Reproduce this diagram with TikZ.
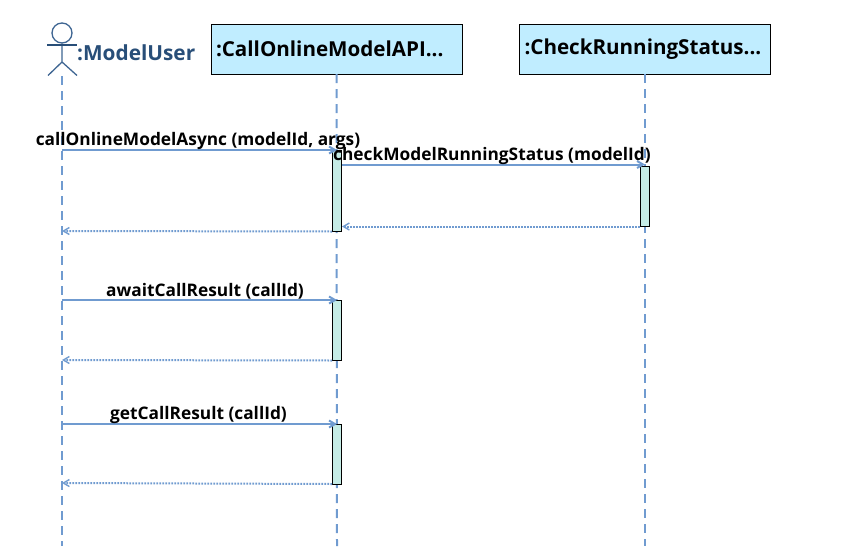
\documentclass[tikz,border=0pt]{standalone}
\usepackage{fontspec}
\setmainfont{Open Sans}
\usetikzlibrary{positioning, calc, arrows.meta}
\definecolor{lifeblue}{RGB}{112,155,208}
\definecolor{boxblue}{RGB}{192,237,255}
\definecolor{actblue}{RGB}{197,236,230}
\definecolor{userblue}{RGB}{40,78,120}
\tikzset{
	classbox/.style={draw, fill=boxblue, minimum width=251pt, minimum height=50pt, inner sep=5pt, text width=241pt, align=left, font=\fontsize{20.6pt}{24pt}\selectfont\bfseries},
	actbox/.style={draw, fill=actblue, minimum width=9pt, inner sep=0pt, line width=1pt},
	lifeline/.style={draw=lifeblue, line width=2pt, dash pattern=on 9pt off 6pt},
	callmsg/.style={draw=lifeblue, line width=2pt, -{Straight Barb[length=6pt,width=7pt]}},
	backmsg/.style={draw=lifeblue, line width=2pt, dash pattern=on 1.6pt off 1.4pt, -{Straight Barb[length=6pt,width=7pt,line width=1.4pt]}},
	msgtext/.style={font=\fontsize{17.3pt}{20pt}\selectfont\bfseries, inner sep=0pt},
}
\begin{document}
\begin{tikzpicture}[x=1pt, y=-1pt]
	\useasboundingbox (0,0) rectangle (866,554);
	% objects
	\node[classbox] (apibox) at (336.5,49) {\raisebox{-1pt}{:CallOnlineModelAPI...}};
	\node[classbox] (statusbox) at (645,49) {\raisebox{-1pt}{:CheckRunningStatus...}};
	\coordinate (usertop) at (62,76);
	\coordinate (userend) at (62,546);
	\coordinate (apiend) at (337,546);
	\coordinate (statusend) at (645,546);
	% actor
	\node[draw=userblue!70!lifeblue, circle, line width=1.3pt, minimum size=20pt, inner sep=0pt] (head) at (62,33) {};
	\coordinate (hip) at (62,62);
	\draw[draw=userblue!70!lifeblue, line width=1.3pt] (head.south) -- (hip) -- (48,75.5) (hip) -- (77,75.5);
	\draw[draw=userblue, line width=1.2pt] (47,45) -- (77,45);
	\node[anchor=west, inner sep=0pt, text=userblue, font=\fontsize{20.8pt}{24pt}\selectfont\bfseries] (username) at (77,53) {:ModelUser};
	% lifelines
	\draw[lifeline] (usertop) -- (userend);
	\draw[lifeline] (apibox.south) -- (apiend);
	\draw[lifeline] (statusbox.south) -- (statusend);
	% activations: name/x/top/bottom
	\foreach \name/\x/\ytop/\ybot in {actone/337/150/231, actstatus/645/166/226, acttwo/337/300.5/360, actthree/337/424.5/484}
	{
		\pgfmathsetmacro{\h}{\ybot-\ytop}
		\node[actbox, minimum height=\h pt] (\name) at (\x,{(\ytop+\ybot)/2}) {};
	}
	% messages
	\coordinate (callstart) at (62,150);
	\coordinate (awaitstart) at (62,300);
	\coordinate (getstart) at (62,424);
	\coordinate (backone) at (62,231);
	\coordinate (backtwo) at (62,360);
	\coordinate (backthree) at (62,483);
	\draw[callmsg] (callstart) -- (callstart -| actone.north);
	\draw[callmsg] (actone.east |- actstatus.north) ++(0,-1) -- ($(actstatus.north)+(0,-1)$);
	\draw[backmsg] (actstatus.south west) -- (actone.east |- actstatus.south);
	\draw[backmsg] (actone.south west) -- (backone);
	\draw[callmsg] (awaitstart) -- (awaitstart -| acttwo.north);
	\draw[backmsg] (acttwo.south west) -- (backtwo);
	\draw[callmsg] (getstart) -- (getstart -| actthree.north);
	\draw[backmsg] ($(actthree.south west)+(0,-0.5)$) -- (backthree);
	% message texts
	\node[msgtext] (calltext) at (198,141) {callOnlineModelAsync (modelId, args)};
	\node[msgtext] (checktext) at (492,156) {checkModelRunningStatus (modelId)};
	\node[msgtext] (awaittext) at (205,291) {awaitCallResult (callId)};
	\node[msgtext] (gettext) at (198.5,415) {getCallResult (callId)};
\end{tikzpicture}
\end{document}
